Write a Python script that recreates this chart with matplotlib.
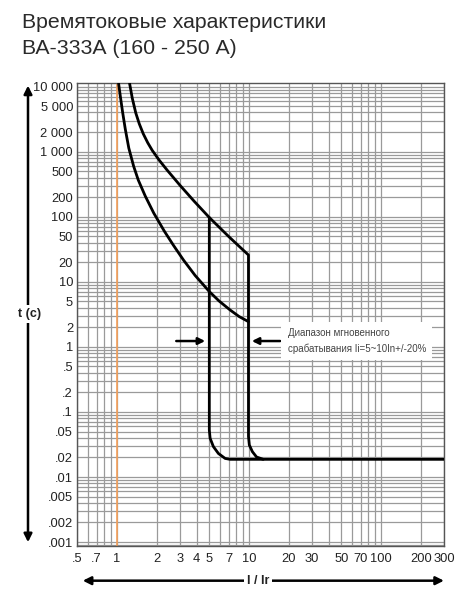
import matplotlib
matplotlib.use("Agg")
import matplotlib.pyplot as plt
from matplotlib.ticker import FixedLocator, LogLocator, NullFormatter
from matplotlib.patches import FancyArrowPatch

plt.rcParams['font.family'] = ['Liberation Sans', 'DejaVu Sans']

# ---- data ----
title_lines = ["Времятоковые характеристики", "ВА-333А (160 - 250 А)"]

x_ticks = [0.5, 0.7, 1, 2, 3, 4, 5, 7, 10, 20, 30, 50, 70, 100, 200, 300]
x_ticklabels = [".5", ".7", "1", "2", "3", "4", "5", "7", "10", "20", "30",
                "50", "70", "100", "200", "300"]
y_ticks = [10000, 5000, 2000, 1000, 500, 200, 100, 50, 20, 10, 5, 2, 1,
           0.5, 0.2, 0.1, 0.05, 0.02, 0.01, 0.005, 0.002, 0.001]
y_ticklabels = ["10 000", "5 000", "2 000", "1 000", "500", "200", "100", "50",
                "20", "10", "5", "2", "1", ".5", ".2", ".1", ".05", ".02",
                ".01", ".005", ".002", ".001"]

# upper thermal curve, then vertical at 10, rounded corner, horizontal
upper_x = [1.245, 1.305, 1.387, 1.474, 1.58, 1.709, 1.849, 2.088, 2.388, 3.01,
           3.84, 5.01, 7.036, 9.9, 9.9, 10.05, 10.6, 11.4, 12.8, 300]
upper_t = [11200, 6622, 3938, 2683, 1884, 1370, 1045, 739, 525, 301.6,
           173, 96.9, 49.3, 25.8, 0.042, 0.031, 0.0245, 0.0203, 0.0187, 0.0187]

# lower thermal curve
lower_x = [1.028, 1.059, 1.102, 1.155, 1.228, 1.335, 1.449, 1.636, 1.897, 2.279,
           2.665, 3.187, 3.907, 5.01, 5.93, 7.185, 8.4, 9.9]
lower_t = [11200, 7150, 4060, 2225, 1136, 601, 366, 208, 114, 60.3,
           36.8, 21.6, 12.5, 7.05, 5.07, 3.69, 2.93, 2.44]

# vertical at 5 with rounded corner
inst5_x = [5.0, 5.0, 5.07, 5.37, 5.86, 6.59, 7.18, 12.8]
inst5_t = [96.9, 0.053, 0.0394, 0.0293, 0.0230, 0.0193, 0.0187, 0.0187]

rated_current = 1.0

annot_text = "Диапазон мгновенного\nсрабатывания Ii=5~10In+/-20%"

# ---- figure ----
fig = plt.figure(figsize=(4.77, 6.0), dpi=100)
ax = fig.add_axes([0.162, 0.0905, 0.769, 0.7705])
ax.set_xscale('log')
ax.set_yscale('log')
ax.set_xlim(0.5, 300)
ax.set_ylim(0.00088, 11200)

grid_kw = dict(color='#9a9a9a', linewidth=0.9)
ax.xaxis.set_major_locator(FixedLocator(x_ticks))
ax.set_xticklabels(x_ticklabels)
ax.yaxis.set_major_locator(FixedLocator(y_ticks))
ax.set_yticklabels(y_ticklabels)
ax.xaxis.set_minor_locator(LogLocator(base=10, subs=range(1, 10), numticks=50))
ax.yaxis.set_minor_locator(LogLocator(base=10, subs=range(1, 10), numticks=50))
ax.xaxis.set_minor_formatter(NullFormatter())
ax.yaxis.set_minor_formatter(NullFormatter())
ax.grid(True, which='both', **grid_kw)
ax.set_axisbelow(True)
ax.tick_params(which='both', length=0)
ax.tick_params(axis='x', pad=5, labelsize=9.3, labelcolor='#222222')
ax.tick_params(axis='y', pad=3, labelsize=9.3, labelcolor='#222222')
for s in ax.spines.values():
    s.set_color('#555555')
    s.set_linewidth(1.0)

ax.axvline(rated_current, color='#f5a05a', linewidth=1.2, zorder=2)

line_kw = dict(color='black', linewidth=2.0, solid_joinstyle='round',
               solid_capstyle='round', zorder=3)
ax.plot(upper_x, upper_t, **line_kw)
ax.plot(lower_x, lower_t, **line_kw)
ax.plot(inst5_x, inst5_t, **line_kw)

# annotation arrows
ax.annotate("", xy=(4.65, 1.23), xytext=(2.81, 1.23),
            arrowprops=dict(arrowstyle='-|>', color='black', lw=1.8,
                            mutation_scale=10, shrinkA=0, shrinkB=0), zorder=4)
ax.annotate("", xy=(10.5, 1.23), xytext=(17.2, 1.23),
            arrowprops=dict(arrowstyle='-|>', color='black', lw=1.8,
                            mutation_scale=10, shrinkA=0, shrinkB=0), zorder=4)
ax.text(19.6, 1.23, annot_text, fontsize=7.0, color='#444444',
        va='center', ha='left', linespacing=1.65, zorder=5,
        bbox=dict(facecolor='white', edgecolor='none', pad=4.5))

# titles
fig.text(0.046, 0.963, title_lines[0], fontsize=15.3, color='#2a2a2a', va='center', ha='left')
fig.text(0.046, 0.919, title_lines[1], fontsize=15.3, color='#2a2a2a', va='center', ha='left')

# axis arrows
va_arrow = FancyArrowPatch((0.0587, 0.0917), (0.0587, 0.862), transform=fig.transFigure,
                           arrowstyle='<|-|>', mutation_scale=12, color='black', lw=1.8)
fig.add_artist(va_arrow)
fig.text(0.0614, 0.4767, "t (c)", fontsize=9, fontweight='bold', color='#222222',
         ha='center', va='center',
         bbox=dict(facecolor='white', edgecolor='none', pad=2))

ha_arrow = FancyArrowPatch((0.1677, 0.0322), (0.9365, 0.0322), transform=fig.transFigure,
                           arrowstyle='<|-|>', mutation_scale=12, color='black', lw=1.8)
fig.add_artist(ha_arrow)
fig.text(0.541, 0.0322, "I / Ir", fontsize=9, fontweight='bold', color='#222222',
         ha='center', va='center',
         bbox=dict(facecolor='white', edgecolor='none', pad=2))

fig.savefig("out.png", dpi=100, facecolor='white')
